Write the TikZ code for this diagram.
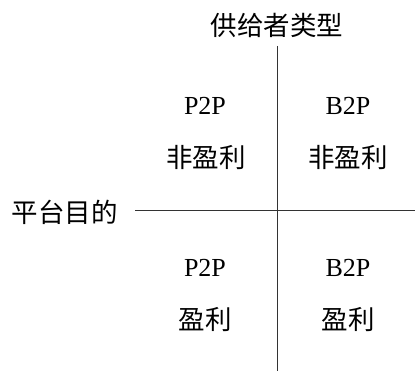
\documentclass[tikz,border=0pt]{standalone}
\usepackage{fontspec}
\setmainfont{Liberation Serif}
\newfontfamily\cjkfont{Noto Sans CJK SC}
\usetikzlibrary{positioning}

\tikzset{
  axislabel/.style={font=\cjkfont\fontsize{26.5}{29}\selectfont, inner sep=0pt},
  quadname/.style={font=\fontsize{26}{28}\selectfont, inner sep=0pt},
  quadgoal/.style={font=\cjkfont\fontsize{26.5}{29}\selectfont, inner sep=0pt},
  axisline/.style={line width=0.8pt, black!80}
}

\begin{document}
\begin{tikzpicture}[x=1pt,y=-1pt]
            \useasboundingbox (0,0) rectangle (415,371);

            % axes
            \coordinate (vtop) at (277,46);
            \coordinate (vbot) at (277,371);
            \coordinate (hleft) at (135,210);
            \coordinate (hright) at (415,210);
            \draw[axisline] (vtop) -- (vbot);
            \draw[axisline] (hleft) -- (hright);

            % axis labels
            \node[axislabel] (supplier) at (277,25) {供给者类型};
            \node[axislabel] (purpose) at (65,212) {平台目的};

            % upper left
            \node[quadname] (ulname) at (205,106) {P2P};
            \node[quadgoal] (ulgoal) at (206,157) {非盈利};

            % upper right
            \node[quadname] (urname) at (348,106) {B2P};
            \node[quadgoal] (urgoal) at (348,157) {非盈利};

            % lower left
            \node[quadname] (llname) at (205,268) {P2P};
            \node[quadgoal] (llgoal) at (205,320) {盈利};

            % lower right
            \node[quadname] (lrname) at (348,268) {B2P};
            \node[quadgoal] (lrgoal) at (348,320) {盈利};
        \end{tikzpicture}
\end{document}
